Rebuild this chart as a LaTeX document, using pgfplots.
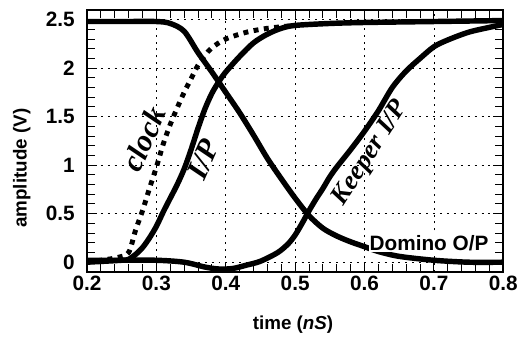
\documentclass[border=0pt]{standalone}
\usepackage{pgfplots}
\pgfplotsset{compat=1.18}
\usepackage{fontspec}
\setmainfont{Liberation Sans}
\newfontfamily\timesf{Liberation Serif}
\begin{document}
\begin{tikzpicture}
\begin{axis}[
  scale only axis, width=421pt, height=265pt,
  xmin=0.2, xmax=0.8, ymin=-0.1, ymax=2.6,
  xtick={0.2,0.3,0.4,0.5,0.6,0.7,0.8},
  ytick={0,0.5,1,1.5,2,2.5},
  minor x tick num=4, minor y tick num=4,
  tick align=inside, major tick length=10pt, minor tick length=8pt,
  grid=major,
  major grid style={black, line width=0.7pt, dash pattern=on 2pt off 5pt},
  axis line style={line width=1.8pt},
  every tick/.style={black, line width=1pt},
  /pgf/number format/assume math mode=true,
  ticklabel style={font=\fontsize{21}{24}\selectfont\bfseries},
  yticklabel style={xshift=-9pt},
  xticklabel style={yshift=-1pt},
  label style={font=\fontsize{19}{22}\selectfont\bfseries},
  xlabel={time (\textit{nS})}, ylabel={amplitude (V)},
  xlabel style={at={(axis description cs:0.495,-0.2)}, anchor=center},
  ylabel style={at={(axis description cs:-0.157,0.396)}, anchor=center},
  clip=false,
]
% clock (dotted)
\addplot[black, line width=5pt, dash pattern=on 5pt off 5.5pt, smooth] coordinates {
(0.2,0.0) (0.23,0.03) (0.245,0.05) (0.26,0.1) (0.27,0.33) (0.28,0.53) (0.29,0.76)
(0.30,0.98) (0.31,1.22) (0.32,1.42) (0.33,1.59) (0.34,1.75) (0.35,1.89) (0.36,2.03)
(0.37,2.13) (0.38,2.21) (0.40,2.3) (0.43,2.37) (0.46,2.41) (0.5,2.44)};
% I/P
\addplot[black, line width=5.5pt, smooth] coordinates {
(0.2,0.0) (0.25,0.02) (0.26,0.03) (0.27,0.08) (0.28,0.15) (0.29,0.25) (0.30,0.37)
(0.31,0.52) (0.32,0.66) (0.33,0.8) (0.34,0.96) (0.35,1.16) (0.36,1.38) (0.37,1.58)
(0.38,1.74) (0.39,1.86) (0.40,1.96) (0.42,2.12) (0.44,2.26) (0.46,2.35) (0.48,2.41)
(0.5,2.44) (0.55,2.46) (0.6,2.47) (0.7,2.48) (0.8,2.49)};
% Domino O/P
\addplot[black, line width=5.5pt, smooth] coordinates {
(0.2,2.48) (0.25,2.48) (0.3,2.48) (0.32,2.46) (0.34,2.38) (0.36,2.16) (0.38,1.96)
(0.40,1.75) (0.42,1.54) (0.44,1.31) (0.46,1.07) (0.48,0.86) (0.50,0.66) (0.52,0.48)
(0.54,0.35) (0.56,0.27) (0.58,0.21) (0.60,0.16) (0.62,0.11) (0.65,0.06) (0.70,0.02)
(0.75,0.0) (0.8,0.0)};
% Keeper I/P
\addplot[black, line width=5.5pt, smooth] coordinates {
(0.2,0.02) (0.25,0.02) (0.3,0.02) (0.34,0.0) (0.37,-0.05) (0.39,-0.07) (0.41,-0.065)
(0.43,-0.03) (0.45,0.01) (0.475,0.1) (0.49,0.19) (0.50,0.28) (0.51,0.4) (0.52,0.53)
(0.53,0.65) (0.54,0.76) (0.55,0.88) (0.56,0.98) (0.58,1.16) (0.60,1.35) (0.62,1.56)
(0.64,1.8) (0.66,1.97) (0.68,2.1) (0.70,2.22) (0.72,2.29) (0.75,2.37) (0.78,2.42)
(0.8,2.45)};
\node[rotate=66, font=\timesf\bfseries\itshape\fontsize{31}{34}\selectfont] at (axis cs:0.282,1.27) {clock};
\node[rotate=66, font=\timesf\bfseries\itshape\fontsize{31}{34}\selectfont] at (axis cs:0.368,1.06) {I/P};
\node[rotate=57, font=\timesf\bfseries\itshape\fontsize{27}{30}\selectfont] at (axis cs:0.609,1.12) {Keeper I/P};
\node[fill=white, inner sep=1pt, font=\fontsize{21}{24}\selectfont\bfseries] at (axis cs:0.693,0.197) {Domino O/P};
\end{axis}
\path (current axis.south west) ++(-88pt,-67pt) rectangle ++(521pt,342pt);
\end{tikzpicture}
\end{document}
